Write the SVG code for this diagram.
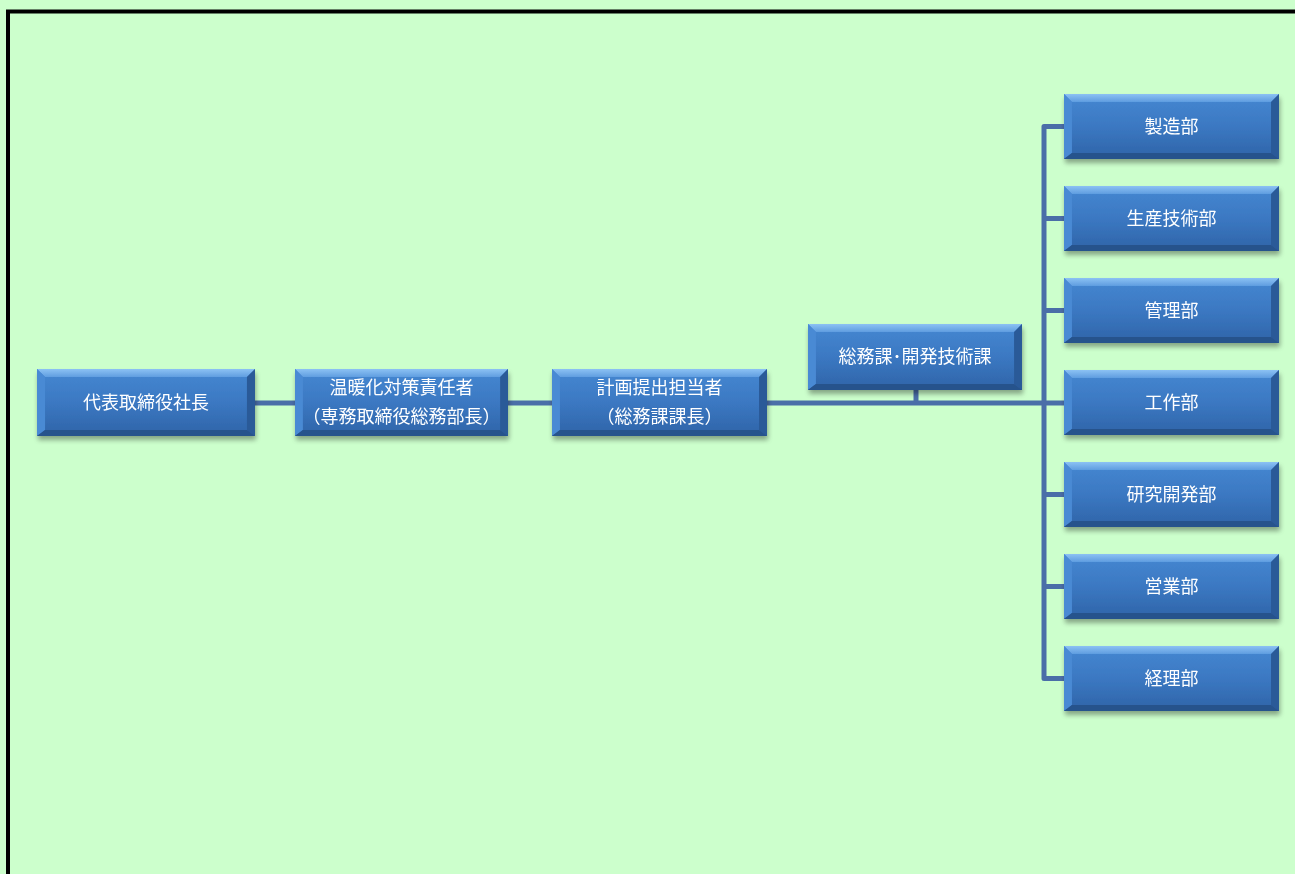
<svg xmlns="http://www.w3.org/2000/svg" xmlns:xlink="http://www.w3.org/1999/xlink" width="1295" height="874" viewBox="0 0 1295 874">
<defs>
<linearGradient id="gBody" x1="0" y1="0" x2="0" y2="1">
<stop offset="0" stop-color="#4688d2"/>
<stop offset="0.5" stop-color="#3b78c2"/>
<stop offset="1" stop-color="#2f64a8"/>
</linearGradient>
<linearGradient id="gTop" x1="0" y1="0" x2="0" y2="1">
<stop offset="0" stop-color="#8cc2f4"/>
<stop offset="1" stop-color="#5f9de0"/>
</linearGradient>
<filter id="sh" x="-10%" y="-10%" width="125%" height="140%">
<feGaussianBlur in="SourceAlpha" stdDeviation="2.5"/>
<feOffset dx="1" dy="4" result="b"/>
<feComponentTransfer><feFuncA type="linear" slope="0.35"/></feComponentTransfer>
<feMerge><feMergeNode/><feMergeNode in="SourceGraphic"/></feMerge>
</filter>
<symbol id="box" viewBox="0 0 216 66" preserveAspectRatio="none">
<rect x="0" y="0" width="216" height="66" fill="url(#gBody)"/>
<polygon points="0,0 216,0 208,8 8,8" fill="url(#gTop)"/>
<polygon points="0,0 8,8 8,60 0,66" fill="#4a8ad4"/>
<polygon points="216,0 216,66 208,60 208,8" fill="#2c5a98"/>
<polygon points="0,66 8,60 208,60 216,66" fill="#27528c"/>
</symbol>
<style>
.t{font-family:"Noto Sans CJK JP","Noto Sans CJK SC",sans-serif;font-size:18px;fill:#ffffff;text-anchor:middle}
.c{stroke:#4a6ea8;stroke-width:5;fill:none;stroke-linejoin:round}
</style>
</defs>
<rect x="0" y="0" width="1295" height="874" fill="#ccffcc"/>
<path d="M8,874 V11.5 H1295" stroke="#000" stroke-width="4" fill="none"/>

<g id="connectors" class="c">
<path d="M255,403 H295"/>
<path d="M508,403 H552"/>
<path d="M767,403 H1064"/>
<path d="M916,390 V403"/>
<path d="M1064,126.5 H1044 V678.5 H1064"/>
<path d="M1044,218.5 H1064"/>
<path d="M1044,310.5 H1064"/>
<path d="M1044,494.5 H1064"/>
<path d="M1044,586.5 H1064"/>
</g>

<g id="n1" filter="url(#sh)"><use xlink:href="#box" x="37" y="369" width="218" height="67"/><text class="t" x="146" y="409">代表取締役社長</text></g>
<g id="n2" filter="url(#sh)"><use xlink:href="#box" x="295" y="369" width="213" height="67"/><text class="t" x="401.5" y="394">温暖化対策責任者</text><text class="t" x="401.5" y="423">（専務取締役総務部長）</text></g>
<g id="n3" filter="url(#sh)"><use xlink:href="#box" x="552" y="369" width="215" height="67"/><text class="t" x="659.5" y="394">計画提出担当者</text><text class="t" x="659.5" y="423">（総務課課長）</text></g>
<g id="n4" filter="url(#sh)"><use xlink:href="#box" x="808" y="324" width="214" height="66"/><text class="t" x="915" y="363">総務課･開発技術課</text></g>
<g id="d1" filter="url(#sh)"><use xlink:href="#box" x="1064" y="94" width="215" height="65"/><text class="t" x="1171.5" y="133">製造部</text></g>
<g id="d2" filter="url(#sh)"><use xlink:href="#box" x="1064" y="186" width="215" height="65"/><text class="t" x="1171.5" y="225">生産技術部</text></g>
<g id="d3" filter="url(#sh)"><use xlink:href="#box" x="1064" y="278" width="215" height="65"/><text class="t" x="1171.5" y="317">管理部</text></g>
<g id="d4" filter="url(#sh)"><use xlink:href="#box" x="1064" y="370" width="215" height="65"/><text class="t" x="1171.5" y="409">工作部</text></g>
<g id="d5" filter="url(#sh)"><use xlink:href="#box" x="1064" y="462" width="215" height="65"/><text class="t" x="1171.5" y="501">研究開発部</text></g>
<g id="d6" filter="url(#sh)"><use xlink:href="#box" x="1064" y="554" width="215" height="65"/><text class="t" x="1171.5" y="593">営業部</text></g>
<g id="d7" filter="url(#sh)"><use xlink:href="#box" x="1064" y="646" width="215" height="65"/><text class="t" x="1171.5" y="685">経理部</text></g>
</svg>
